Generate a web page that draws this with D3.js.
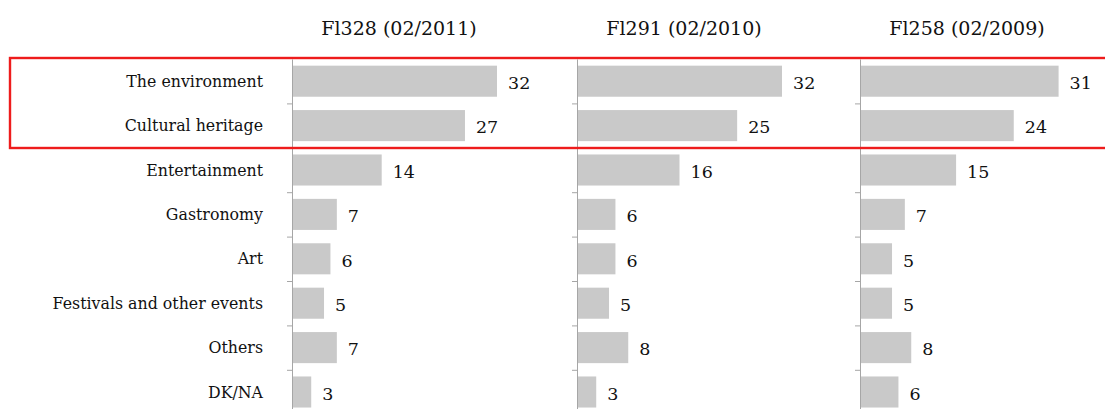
<!DOCTYPE html>
<html>
<head>
<meta charset="utf-8">
<script src="https://cdn.jsdelivr.net/npm/d3@7"></script>
<style>
  body { margin: 0; background: #fff; }
  text { font-family: "DejaVu Serif", Georgia, serif; fill: #111; }
</style>
</head>
<body>
<div id="plot"></div>
<script>
// Data
const categories = ["The environment", "Cultural heritage", "Entertainment", "Gastronomy",
                    "Art", "Festivals and other events", "Others", "DK/NA"];
const surveys = ["Fl328 (02/2011)", "Fl291 (02/2010)", "Fl258 (02/2009)"];
const fl328 = [32, 27, 14, 7, 6, 5, 7, 3];
const fl291 = [32, 25, 16, 6, 6, 5, 8, 3];
const fl258 = [31, 24, 15, 7, 5, 5, 8, 6];
const series = [fl328, fl291, fl258];

const width = 1105, height = 409;
const plotTop = 59, rowH = 44.4;
const panelX = [292, 577, 860];

const svg = d3.select("#plot")
    .append("svg")
    .attr("width", width)
    .attr("height", height);

// Scales
const y = d3.scaleBand()
    .domain(categories)
    .range([plotTop, plotTop + rowH * categories.length])
    .paddingInner(0.3)
    .paddingOuter(0.15);

const yIdx = d3.scaleLinear()
    .domain([0, categories.length])
    .range([plotTop, plotTop + rowH * categories.length]);

const x = d3.scaleLinear()
    .domain([0, 32])
    .range([0, 205]);

// Category labels
svg.selectAll(".cat")
    .data(categories)
    .enter()
    .append("text")
    .attr("class", "cat")
    .attr("x", 263)
    .attr("y", d => y(d) + y.bandwidth() / 2)
    .attr("dy", "0.35em")
    .attr("text-anchor", "end")
    .style("font-size", "15.8px")
    .text(d => d);

series.forEach((vals, i) => {
    const g = svg.append("g")
        .attr("transform", `translate(${panelX[i]},0)`);

    // Title
    g.append("text")
        .attr("x", 107)
        .attr("y", 35)
        .attr("text-anchor", "middle")
        .style("font-size", "19px")
        .text(surveys[i]);

    // Bars
    g.selectAll(".bar")
        .data(vals)
        .enter()
        .append("rect")
        .attr("class", "bar")
        .attr("x", 0)
        .attr("y", (d, j) => y(categories[j]))
        .attr("width", d => x(d))
        .attr("height", y.bandwidth())
        .attr("fill", "#c9c9c9");

    // Value labels
    g.selectAll(".val")
        .data(vals)
        .enter()
        .append("text")
        .attr("class", "val")
        .attr("x", d => x(d) + 11)
        .attr("y", (d, j) => y(categories[j]) + y.bandwidth() / 2)
        .attr("dy", "0.45em")
        .style("font-size", "17.5px")
        .text(d => d);

    // Axis with ticks at band boundaries
    const axis = g.append("g")
        .call(d3.axisLeft(yIdx)
            .tickValues(d3.range(1, categories.length))
            .tickSize(5)
            .tickSizeOuter(0)
            .tickFormat(""));
    axis.selectAll("path, line").attr("stroke", "#a6a6a6");
});

// Highlight box
svg.append("rect")
    .attr("x", 10)
    .attr("y", 58)
    .attr("width", 1100)
    .attr("height", 90)
    .attr("fill", "none")
    .attr("stroke", "#ee1c1c")
    .attr("stroke-width", 2.4);
</script>
</body>
</html>
